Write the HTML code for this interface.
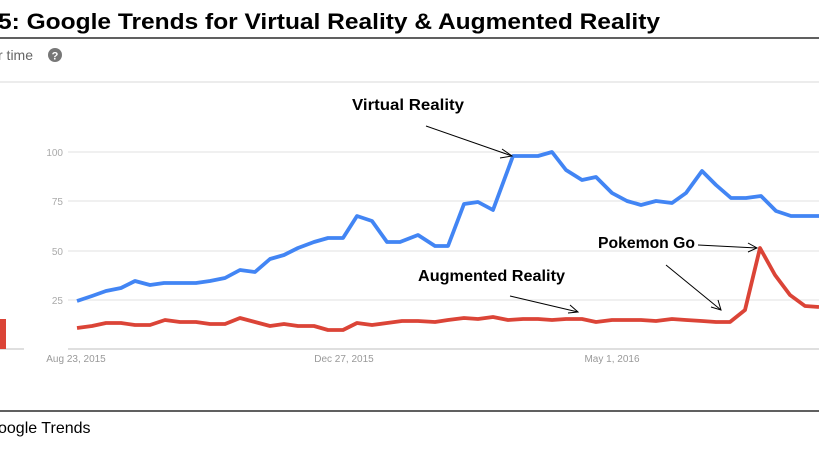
<!DOCTYPE html>
<html><head><meta charset="utf-8"><style>
body{margin:0;width:819px;height:452px;overflow:hidden;background:#fff;font-family:"Liberation Sans",sans-serif}
</style></head><body>
<svg width="819" height="452" viewBox="0 0 819 452" xmlns="http://www.w3.org/2000/svg">
<text x="-2" y="29" font-family="Liberation Sans" font-weight="bold" font-size="22" fill="#000" textLength="662" lengthAdjust="spacingAndGlyphs">5: Google Trends for Virtual Reality &amp; Augmented Reality</text>
<line x1="0" y1="38" x2="819" y2="38" stroke="#000" stroke-width="1.2"/>
<text x="-2" y="60" font-size="14" fill="#666">r time</text>
<circle cx="55" cy="55" r="7" fill="#777"/>
<text x="55" y="59.5" font-size="11" font-weight="bold" fill="#fff" text-anchor="middle">?</text>
<line x1="0" y1="82" x2="819" y2="82" stroke="#e6e6e6" stroke-width="1.5"/>
<g stroke="#e8e8e8" stroke-width="1.3">
<line x1="68" y1="152" x2="819" y2="152"/><line x1="68" y1="201" x2="819" y2="201"/>
<line x1="68" y1="251" x2="819" y2="251"/><line x1="68" y1="300" x2="819" y2="300"/>
</g>
<line x1="68" y1="349" x2="819" y2="349" stroke="#ccc" stroke-width="1.3"/>
<line x1="0" y1="349" x2="24" y2="349" stroke="#ccc" stroke-width="1.3"/>
<rect x="0" y="319" width="6" height="30" fill="#db4437"/>
<g font-size="10" fill="#aaa" text-anchor="end">
<text x="63" y="156">100</text><text x="63" y="205">75</text><text x="63" y="255">50</text><text x="63" y="304">25</text>
</g>
<g font-size="10" fill="#999" text-anchor="middle">
<text x="76" y="362">Aug 23, 2015</text><text x="344" y="362">Dec 27, 2015</text><text x="612" y="362">May 1, 2016</text>
</g>
<polyline fill="none" stroke="#4285f4" stroke-width="3.8" stroke-linejoin="round" points="77,301 92,296 106,291 121,288 135,281 150,285 164,283 180,283 196,283 210,281 225,278 240,270 255,272 270,259 284,255 298,248 314,242 328,238 343,238 357,216 372,221 387,242 400,242 418,235 435,246 448,246 464,204 478,202 493,210 513,156 538,156 552,152 566,170 582,180 596,177 612,193 627,201 641,205 656,201 672,203 686,193 702,171 716,185 731,198 746,198 761,196 776,211 791,216 819,216"/>
<polyline fill="none" stroke="#db4437" stroke-width="3.8" stroke-linejoin="round" points="77,328 92,326 106,323 121,323 135,325 150,325 165,320 180,322 196,322 210,324 225,324 240,318 255,322 270,326 284,324 298,326 314,326 328,330 343,330 357,323 372,325 387,323 402,321 418,321 435,322 448,320 464,318 478,319 493,317 508,320 523,319 538,319 552,320 566,319 582,319 596,322 612,320 627,320 641,320 656,321 672,319 686,320 702,321 716,322 730,322 745,310 760,248 775,275 790,295 805,306 819,307"/>
<g font-family="Liberation Sans" font-size="15.5" font-weight="bold" fill="#000">
<text x="352" y="110" textLength="112" lengthAdjust="spacingAndGlyphs">Virtual Reality</text>
<text x="598" y="248" textLength="97" lengthAdjust="spacingAndGlyphs">Pokemon Go</text>
<text x="418" y="281" textLength="147" lengthAdjust="spacingAndGlyphs">Augmented Reality</text>
</g>
<g stroke="#000" stroke-width="1" fill="none">
<line x1="426" y1="126" x2="512" y2="156"/><polyline points="502,149 512,156 500,158"/>
<line x1="698" y1="245" x2="757" y2="248"/><polyline points="748,243 757,248 748,252"/>
<line x1="666" y1="265" x2="721" y2="310"/><polyline points="718,300 721,310 711,307"/>
<line x1="510" y1="296" x2="578" y2="312"/><polyline points="570,305 578,312 568,313"/>
</g>
<line x1="0" y1="411" x2="819" y2="411" stroke="#000" stroke-width="1.2"/>
<text x="-2" y="433" font-size="16" fill="#000">oogle Trends</text>
</svg>
</body></html>
